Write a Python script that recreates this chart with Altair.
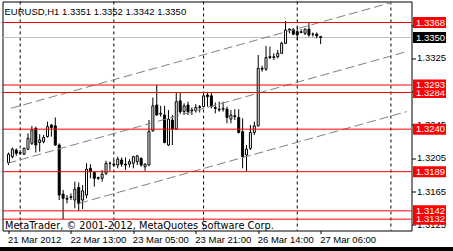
import altair as alt
import pandas as pd

# ---------------- data ----------------
bar_index = list(range(81))
opens = [1.3200, 1.3207, 1.3215, 1.3211, 1.3210, 1.3216, 1.3223, 1.3241, 1.3224, 1.3225,
         1.3231, 1.3245, 1.3244, 1.3221, 1.3162, 1.3157, 1.3158, 1.3155, 1.3170, 1.3155,
         1.3161, 1.3193, 1.3188, 1.3181, 1.3181, 1.3187, 1.3199, 1.3198, 1.3197, 1.3203,
         1.3198, 1.3198, 1.3199, 1.3201, 1.3205, 1.3195, 1.3197, 1.3238, 1.3269, 1.3258,
         1.3257, 1.3221, 1.3251, 1.3240, 1.3274, 1.3261, 1.3269, 1.3262, 1.3262, 1.3266,
         1.3267, 1.3281, 1.3280, 1.3266, 1.3264, 1.3264, 1.3264, 1.3252, 1.3256, 1.3254,
         1.3237, 1.3209, 1.3217, 1.3236, 1.3244, 1.3313, 1.3312, 1.3327, 1.3326, 1.3327,
         1.3331, 1.3343, 1.3359, 1.3360, 1.3357, 1.3356, 1.3355, 1.3360, 1.3354, 1.3354,
         1.3351]
highs = [1.3212, 1.3218, 1.3217, 1.3215, 1.3218, 1.3235, 1.3244, 1.3243, 1.3234, 1.3233,
         1.3249, 1.3246, 1.3254, 1.3223, 1.3167, 1.3161, 1.3163, 1.3177, 1.3176, 1.3173,
         1.3199, 1.3198, 1.3189, 1.3183, 1.3191, 1.3202, 1.3201, 1.3203, 1.3207, 1.3206,
         1.3206, 1.3204, 1.3208, 1.3209, 1.3206, 1.3199, 1.3251, 1.3278, 1.3293, 1.3268,
         1.3268, 1.3263, 1.3257, 1.3284, 1.3284, 1.3271, 1.3273, 1.3266, 1.3270, 1.3269,
         1.3283, 1.3284, 1.3284, 1.3272, 1.3273, 1.3273, 1.3267, 1.3263, 1.3264, 1.3264,
         1.3253, 1.3221, 1.3245, 1.3249, 1.3329, 1.3316, 1.3340, 1.3339, 1.3331, 1.3335,
         1.3345, 1.3370, 1.3361, 1.3361, 1.3363, 1.3360, 1.3361, 1.3368, 1.3356, 1.3356,
         1.3352]
lows = [1.3197, 1.3205, 1.3208, 1.3209, 1.3209, 1.3215, 1.3221, 1.3212, 1.3213, 1.3223,
        1.3230, 1.3231, 1.3220, 1.3155, 1.3132, 1.3151, 1.3155, 1.3145, 1.3142, 1.3144,
        1.3157, 1.3181, 1.3171, 1.3179, 1.3177, 1.3185, 1.3190, 1.3195, 1.3193, 1.3195,
        1.3191, 1.3194, 1.3193, 1.3197, 1.3195, 1.3190, 1.3196, 1.3237, 1.3256, 1.3255,
        1.3223, 1.3220, 1.3221, 1.3239, 1.3258, 1.3257, 1.3257, 1.3257, 1.3260, 1.3260,
        1.3266, 1.3267, 1.3265, 1.3259, 1.3261, 1.3261, 1.3247, 1.3247, 1.3251, 1.3235,
        1.3193, 1.3189, 1.3215, 1.3233, 1.3243, 1.3309, 1.3310, 1.3324, 1.3323, 1.3325,
        1.3331, 1.3342, 1.3355, 1.3353, 1.3347, 1.3355, 1.3353, 1.3351, 1.3351, 1.3349,
        1.3342]
closes = [1.3210, 1.3216, 1.3211, 1.3212, 1.3217, 1.3229, 1.3239, 1.3221, 1.3227, 1.3230,
          1.3243, 1.3242, 1.3221, 1.3161, 1.3157, 1.3156, 1.3159, 1.3168, 1.3151, 1.3166,
          1.3192, 1.3189, 1.3181, 1.3182, 1.3186, 1.3199, 1.3199, 1.3197, 1.3204, 1.3198,
          1.3197, 1.3201, 1.3207, 1.3208, 1.3197, 1.3198, 1.3237, 1.3268, 1.3257, 1.3259,
          1.3224, 1.3252, 1.3240, 1.3273, 1.3261, 1.3268, 1.3261, 1.3263, 1.3266, 1.3267,
          1.3280, 1.3279, 1.3267, 1.3265, 1.3263, 1.3265, 1.3254, 1.3257, 1.3255, 1.3236,
          1.3207, 1.3216, 1.3236, 1.3244, 1.3313, 1.3312, 1.3326, 1.3326, 1.3327, 1.3331,
          1.3343, 1.3359, 1.3360, 1.3354, 1.3353, 1.3357, 1.3360, 1.3353, 1.3354, 1.3352,
          1.3350]

x_tick_bars = [0, 16, 32, 48, 64, 80]
x_tick_labels = ["21 Mar 2012", "22 Mar 13:00", "23 Mar 05:00", "23 Mar 21:00",
                 "26 Mar 14:00", "27 Mar 06:00"]
y_tick_values = [1.3125, 1.3165, 1.3205, 1.3245, 1.3285, 1.3325, 1.3365]

red_levels = [1.3132, 1.3142, 1.3189, 1.3240, 1.3284, 1.3293, 1.3368]
bid_level = 1.3350
separator_bars = [3, 27, 50, 74, 98]

channel_names = ["upper", "upper", "middle", "middle", "lower", "lower"]
channel_bars = [0.6, 102.0, -0.25, 102.0, 18.1, 102.0]
channel_prices = [1.3265, 1.3397, 1.3199, 1.3333, 1.3151, 1.3261]

symbol_text = "EURUSD,H1"
copyright_text = "MetaTrader, \u00a9 2001-2012, MetaQuotes Software Corp."

# ---------------- chart ----------------
FONT = "Liberation Sans"
FS = 9.5
W, H = 409, 229

df = pd.DataFrame({"k": bar_index, "o": opens, "h": highs, "l": lows, "c": closes})

X = alt.Scale(domain=[-0.25, 102.0], nice=False, zero=False)
Y = alt.Scale(domain=[1.31184, 1.33932], nice=False, zero=False)

labels_js = "[" + ",".join("'" + s + "'" for s in x_tick_labels) + "]"
values_js = "[" + ",".join(str(v) for v in x_tick_bars) + "]"

x_axis = alt.Axis(orient="bottom", values=x_tick_bars,
                  labelExpr=labels_js + "[indexof(" + values_js + ", datum.value)]",
                  tickSize=3, tickColor="black", labelAlign="left", labelBaseline="top",
                  labelPadding=1, labelOffset=-1, domain=False, grid=False, title=None,
                  labelFont=FONT, labelFontSize=FS, labelColor="black",
                  labelFlush=False, labelOverlap=False)
y_axis = alt.Axis(orient="right", values=y_tick_values, labels=False,
                  tickSize=4, tickColor="black",
                  domain=False, grid=False, title=None)


def xq(field):
    return alt.X(field, type="quantitative", scale=X, axis=x_axis)


def yq(field):
    return alt.Y(field, type="quantitative", scale=Y, axis=y_axis)


separators = alt.Chart(pd.DataFrame({"k": separator_bars})).mark_rule(
    color="black", strokeWidth=1, strokeDash=[3, 3]
).encode(x=xq("k"))

bid = alt.Chart(pd.DataFrame({"p": [bid_level]})).mark_rule(
    color="#c0c0c0", strokeWidth=1
).encode(y=yq("p"))

wicks = alt.Chart(df).mark_rule(color="black", strokeWidth=1).encode(
    x=xq("k"), y=yq("l"), y2="h:Q",
)

bodies = alt.Chart(df).mark_bar(size=2, stroke="black", strokeWidth=1).encode(
    x=xq("k"), y=yq("o"), y2="c:Q",
    fill=alt.condition(alt.datum.c >= alt.datum.o, alt.value("white"), alt.value("black")),
)

channels = alt.Chart(pd.DataFrame({"name": channel_names, "k": channel_bars,
                                   "p": channel_prices})).mark_line(
    color="#808080", strokeWidth=1, strokeDash=[9, 4], clip=True
).encode(x=xq("k"), y=yq("p"), detail="name:N")

red = alt.Chart(pd.DataFrame({"p": red_levels})).mark_rule(
    color="#ff0000", strokeWidth=1
).encode(y=yq("p"))

box_levels = sorted(red_levels + [bid_level])

# price-scale labels: those sitting under a level box are drawn first (and get covered),
# the free ones are drawn last
under_vals = [v for v in y_tick_values if any(abs(v - b) < 0.0012 for b in box_levels)]
free_vals = [v for v in y_tick_values if v not in under_vals]


def scale_text(vals):
    return alt.Chart(pd.DataFrame({"lv": vals})).mark_text(
        align="left", baseline="middle", color="black", font=FONT, fontSize=FS
    ).encode(x=alt.value(414.5), y=yq("lv"), text=alt.Text("lv:Q", format=".4f"))


layers = [separators, bid, wicks, bodies, channels, red, scale_text(under_vals)]

for p in box_levels:
    bg = "black" if p == bid_level else "#ff0000"
    one = pd.DataFrame({"p": [p]})
    layers.append(alt.Chart(one).mark_tick(
        orient="horizontal", size=33, thickness=11, color=bg, opacity=1
    ).encode(x=alt.value(427), y=yq("p")))
    layers.append(alt.Chart(one).mark_text(
        align="left", baseline="middle", color="white", font=FONT, fontSize=FS
    ).encode(x=alt.value(413.5), y=yq("p"), text=alt.Text("p:Q", format=".4f")))

last = df.iloc[-1]
header = "%s  %.4f %.4f %.4f %.4f" % (symbol_text, last.o, last.h, last.l, last.c)
layers.append(alt.Chart(pd.DataFrame({"t": [header]})).mark_text(
    align="left", baseline="alphabetic", color="black", font=FONT, fontSize=FS
).encode(x=alt.value(2), y=alt.value(13), text="t:N"))

layers.append(alt.Chart(pd.DataFrame({"t": [copyright_text]})).mark_text(
    align="left", baseline="alphabetic", color="black", font="DejaVu Sans", fontSize=9.8
).encode(x=alt.value(2.5), y=alt.value(227.5), text="t:N"))

layers.append(alt.Chart(pd.DataFrame({"a": [0]})).mark_rect(color="black").encode(
    x=alt.value(-3), x2=alt.value(451), y=alt.value(245.5), y2=alt.value(250)
))
layers.append(scale_text(free_vals))

chart = alt.layer(*layers).properties(
    width=W, height=H,
    autosize=alt.AutoSizeParams(type="none"),
    padding={"left": 2.5, "top": 1.5, "right": 41.5, "bottom": 20.5},
    background="white",
).configure_view(stroke="black", strokeWidth=1)

chart.save("out.html", embed_options={"renderer": "svg", "actions": False})
